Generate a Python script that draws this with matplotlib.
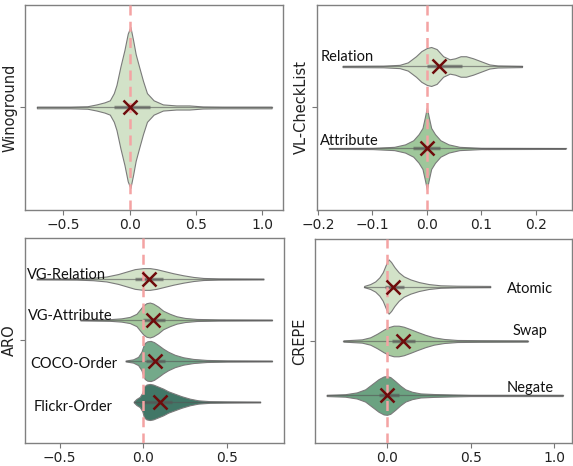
import numpy as np
import matplotlib.pyplot as plt

# violin outlines: x positions and half widths (y units)
wino_x = [-0.70, -0.45, -0.32, -0.25, -0.19, -0.15, -0.12, -0.10, -0.07, -0.04, -0.015, 0.005,
          0.025, 0.045, 0.07, 0.10, 0.13, 0.18, 0.25, 0.35, 0.45, 0.55, 0.70, 1.07]
wino_hw = [0.004, 0.004, 0.006, 0.015, 0.025, 0.035, 0.07, 0.11, 0.20, 0.28, 0.36, 0.393,
           0.33, 0.26, 0.20, 0.13, 0.07, 0.035, 0.015, 0.01, 0.01, 0.005, 0.004, 0.004]

vl_rel_x = [-0.155, -0.08, -0.05, -0.035, -0.02, -0.01, 0.0, 0.008, 0.018, 0.03, 0.042, 0.052,
            0.062, 0.072, 0.085, 0.10, 0.115, 0.13, 0.175]
vl_rel_hw = [0.003, 0.004, 0.008, 0.02, 0.05, 0.075, 0.09, 0.095, 0.085, 0.05, 0.035, 0.04,
             0.05, 0.05, 0.04, 0.025, 0.01, 0.005, 0.003]
vl_att_x = [-0.18, -0.10, -0.06, -0.04, -0.025, -0.015, -0.008, -0.003, 0.0, 0.003, 0.008,
            0.015, 0.025, 0.04, 0.06, 0.10, 0.255]
vl_att_hw = [0.002, 0.003, 0.008, 0.02, 0.04, 0.07, 0.10, 0.16, 0.2, 0.16, 0.10,
             0.07, 0.04, 0.02, 0.008, 0.003, 0.002]

aro_vgr_x = [-0.637, -0.40, -0.30, -0.22, -0.15, -0.10, -0.05, 0.0, 0.04, 0.08, 0.13, 0.18,
             0.24, 0.30, 0.36, 0.45, 0.72]
aro_vgr_hw = [0.002, 0.003, 0.006, 0.012, 0.024, 0.036, 0.048, 0.053, 0.053, 0.048, 0.038,
              0.028, 0.018, 0.01, 0.005, 0.003, 0.002]
aro_vga_x = [-0.375, -0.2, -0.13, -0.08, -0.04, -0.015, 0.0, 0.02, 0.04, 0.06, 0.09, 0.12,
             0.16, 0.20, 0.25, 0.32, 0.45, 0.77]
aro_vga_hw = [0.002, 0.004, 0.008, 0.015, 0.03, 0.055, 0.07, 0.082, 0.085, 0.08, 0.065, 0.045,
              0.03, 0.018, 0.01, 0.005, 0.003, 0.002]
aro_coco_x = [-0.105, -0.06, -0.03, -0.01, 0.0, 0.01, 0.025, 0.045, 0.065, 0.09, 0.12, 0.15,
              0.19, 0.24, 0.30, 0.38, 0.5, 0.77]
aro_coco_hw = [0.002, 0.008, 0.02, 0.045, 0.07, 0.088, 0.096, 0.098, 0.092, 0.078, 0.06, 0.045,
               0.03, 0.018, 0.01, 0.005, 0.003, 0.002]
aro_flk_x = [-0.056, -0.04, -0.02, -0.005, 0.005, 0.02, 0.04, 0.06, 0.09, 0.12, 0.15, 0.19,
             0.23, 0.28, 0.33, 0.40, 0.5, 0.70]
aro_flk_hw = [0.002, 0.015, 0.025, 0.045, 0.075, 0.085, 0.088, 0.085, 0.075, 0.065, 0.052, 0.04,
              0.028, 0.016, 0.008, 0.004, 0.003, 0.002]

crepe_atom_x = [-0.136, -0.10, -0.07, -0.045, -0.025, -0.01, 0.0, 0.01, 0.025, 0.045, 0.07, 0.10,
                0.14, 0.19, 0.25, 0.32, 0.42, 0.617]
crepe_atom_hw = [0.003, 0.012, 0.025, 0.045, 0.07, 0.1, 0.12, 0.133, 0.12, 0.095, 0.07, 0.05,
                 0.035, 0.022, 0.012, 0.006, 0.004, 0.003]
crepe_swap_x = [-0.26, -0.15, -0.10, -0.06, -0.02, 0.01, 0.04, 0.07, 0.10, 0.14, 0.18, 0.23,
                0.28, 0.34, 0.42, 0.55, 0.84]
crepe_swap_hw = [0.003, 0.008, 0.018, 0.035, 0.055, 0.068, 0.075, 0.075, 0.07, 0.058, 0.045, 0.03,
                 0.018, 0.01, 0.005, 0.004, 0.003]
crepe_neg_x = [-0.36, -0.25, -0.18, -0.13, -0.09, -0.05, -0.02, 0.0, 0.02, 0.05, 0.08, 0.11,
               0.15, 0.2, 0.28, 0.38, 0.5, 1.05]
crepe_neg_hw = [0.003, 0.006, 0.015, 0.03, 0.055, 0.08, 0.093, 0.095, 0.09, 0.07, 0.048, 0.03,
                0.018, 0.01, 0.007, 0.005, 0.003, 0.003]

# means and quartiles
wino_mean, wino_q = [0.0], [(-0.12, 0.15)]
vl_mean, vl_q = [0.022, 0.0], [(0.0, 0.065), (-0.025, 0.025)]
aro_mean, aro_q = [0.034, 0.06, 0.073, 0.099], [(-0.05, 0.12), (0.0, 0.13), (0.02, 0.13), (0.0, 0.17)]
crepe_mean, crepe_q = [0.039, 0.095, 0.0], [(-0.01, 0.10), (0.03, 0.17), (-0.05, 0.07)]

vl_names = ["Relation", "Attribute"]
aro_names = ["VG-Relation", "VG-Attribute", "COCO-Order", "Flickr-Order"]
crepe_names = ["Atomic", "Swap", "Negate"]

light, mid = "#d2e2c8", "#a5c99e"
panels = [
    dict(name="Winoground", rect=[0.0436, 0.5494, 0.4503, 0.4399], xlim=(-0.79, 1.156),
         xticks=[-0.5, 0.0, 0.5, 1.0], outlines=[(wino_x, wino_hw)], means=wino_mean, q=wino_q,
         colors=[light], offsets=[0.0]),
    dict(name="VL-CheckList", rect=[0.5532, 0.5494, 0.4451, 0.4399], xlim=(-0.202, 0.267),
         xticks=[-0.2, -0.1, 0.0, 0.1, 0.2], outlines=[(vl_rel_x, vl_rel_hw), (vl_att_x, vl_att_hw)],
         means=vl_mean, q=vl_q, colors=[light, "#9fc79b"], offsets=[-0.2, 0.2]),
    dict(name="ARO", rect=[0.0436, 0.0494, 0.4512, 0.4399], xlim=(-0.707, 0.840),
         xticks=[-0.5, 0.0, 0.5],
         outlines=[(aro_vgr_x, aro_vgr_hw), (aro_vga_x, aro_vga_hw), (aro_coco_x, aro_coco_hw),
                   (aro_flk_x, aro_flk_hw)],
         means=aro_mean, q=aro_q, colors=[light, mid, "#74a98a", "#417767"],
         offsets=[-0.3, -0.1, 0.1, 0.3]),
    dict(name="CREPE", rect=[0.5497, 0.0494, 0.4486, 0.4377], xlim=(-0.43, 1.106),
         xticks=[0.0, 0.5, 1.0],
         outlines=[(crepe_atom_x, crepe_atom_hw), (crepe_swap_x, crepe_swap_hw), (crepe_neg_x, crepe_neg_hw)],
         means=crepe_mean, q=crepe_q, colors=[light, mid, "#6ba281"],
         offsets=[-0.267, 0.0, 0.267]),
]

fig = plt.figure(figsize=(5.73, 4.66), dpi=100)
axes = []
for p in panels:
    ax = fig.add_axes(p["rect"])
    for (x, hw), c, off, m, (q1, q3) in zip(p["outlines"], p["colors"], p["offsets"], p["means"], p["q"]):
        x = np.array(x)
        hw = np.array(hw)
        ax.fill_between(x, off - hw, off + hw, facecolor=c, edgecolor="#7a7a7a", linewidth=0.8, zorder=2)
        ax.plot([x[0], x[-1]], [off, off], color="#555555", lw=0.9, alpha=0.6, zorder=3)
        ax.plot([q1, q3], [off, off], color="#555555", lw=2.5, alpha=0.6, zorder=3,
                solid_capstyle="butt")
        ax.plot([m], [off], marker="x", color="#6e0b0b", markersize=10, mew=1.8, zorder=6)
    ax.axvline(0, color="#f4a3a3", lw=1.8, ls=(0, (4, 2.5)), zorder=5)
    ax.set_xlim(p["xlim"])
    ax.set_ylim(0.5, -0.5)
    ax.set_xticks(p["xticks"])
    ax.set_yticks([0])
    ax.set_yticklabels([""])
    ax.set_ylabel(p["name"], fontsize=10.5, labelpad=0, color="#222222")
    ax.tick_params(labelsize=10, colors="#222222", length=3.5, width=0.8, pad=2)
    ax.tick_params(color="#777777")
    for s in ax.spines.values():
        s.set_color("#808080")
        s.set_linewidth(1.0)
    axes.append(ax)

lab_font = dict(family=["Lato", "DejaVu Sans"], fontsize=10.5, color="#111111")
ax = axes[1]
ax.text(-0.196, -0.245, vl_names[0], ha="left", va="center", **lab_font)
ax.text(-0.196, 0.165, vl_names[1], ha="left", va="center", **lab_font)
ax = axes[2]
for name, xx, yy in zip(aro_names, [-0.695, -0.692, -0.678, -0.657], [-0.318, -0.12, 0.116, 0.324]):
    ax.text(xx, yy, name, ha="left", va="center", **lab_font)
ax = axes[3]
for name, yy in zip(crepe_names, [-0.255, -0.05, 0.23]):
    ax.text(0.855, yy, name, ha="center", va="center", **lab_font)

fig.savefig("out.png", dpi=100)
